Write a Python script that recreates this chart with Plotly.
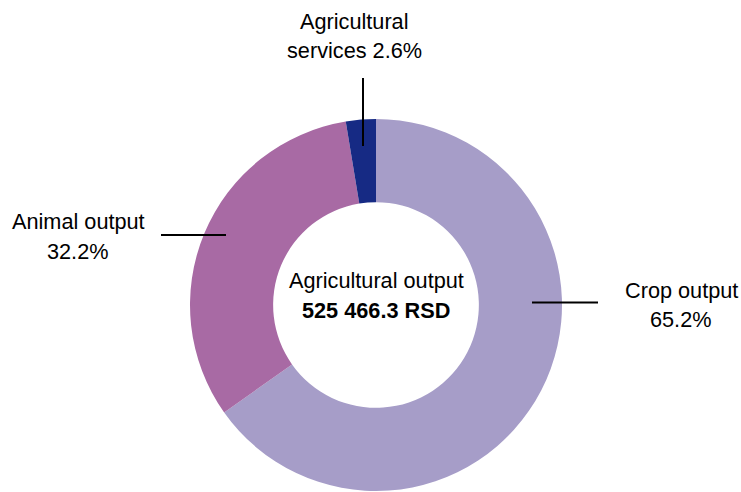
import plotly.graph_objects as go

# Data
categories = ["Crop output", "Animal output", "Agricultural services"]
shares = [65.2, 32.2, 2.6]
colors = ["#A69DC8", "#A86AA4", "#162A84"]
total_label = "Agricultural output"
total_value = "525 466.3 RSD"

W, H = 741, 492
FONT = "Liberation Sans, Arial, sans-serif"
FS = 21.7

def px(x):
    return x / W

def py(y):
    return 1 - y / H

fig = go.Figure()
fig.add_trace(go.Pie(
    labels=categories,
    values=shares,
    marker=dict(colors=colors, line=dict(width=0)),
    hole=0.553,
    sort=False,
    direction="clockwise",
    rotation=0,
    textinfo="none",
    hoverinfo="label+percent",
    showlegend=False,
    domain=dict(x=[px(376 - 186), px(376 + 186)], y=[py(491), py(119)]),
))

annotations = []
def add_text(text, x, y_base, bold=False):
    if bold:
        text = "<b>" + text + "</b>"
    annotations.append(dict(
        text=text, x=px(x), y=py(y_base - 8), xref="paper", yref="paper",
        xanchor="center", yanchor="middle", showarrow=False,
        font=dict(family=FONT, size=FS, color="#000000"),
    ))

add_text("Agricultural", 354, 29)
add_text("services " + f"{shares[2]}%", 354, 59)
add_text("Animal output", 78, 229)
add_text(f"{shares[1]}%", 78, 259)
add_text("Crop output", 681, 298)
add_text(f"{shares[0]}%", 681, 327)
add_text(total_label, 376, 288)
add_text(total_value, 376, 318, bold=True)

shapes = [
    dict(type="line", xref="paper", yref="paper", x0=px(363), x1=px(363), y0=py(78), y1=py(146),
         line=dict(color="#000000", width=2)),
    dict(type="line", xref="paper", yref="paper", x0=px(161), x1=px(226), y0=py(235), y1=py(235),
         line=dict(color="#000000", width=2)),
    dict(type="line", xref="paper", yref="paper", x0=px(532), x1=px(598), y0=py(302.5), y1=py(302.5),
         line=dict(color="#000000", width=2)),
]

fig.update_layout(
    width=W, height=H,
    margin=dict(l=0, r=0, t=0, b=0),
    paper_bgcolor="#FFFFFF", plot_bgcolor="#FFFFFF",
    annotations=annotations, shapes=shapes,
)

fig.write_html(
    "out.html",
    config={"displayModeBar": False},
    post_script="document.body.style.margin='0';document.body.style.overflow='hidden';",
)
